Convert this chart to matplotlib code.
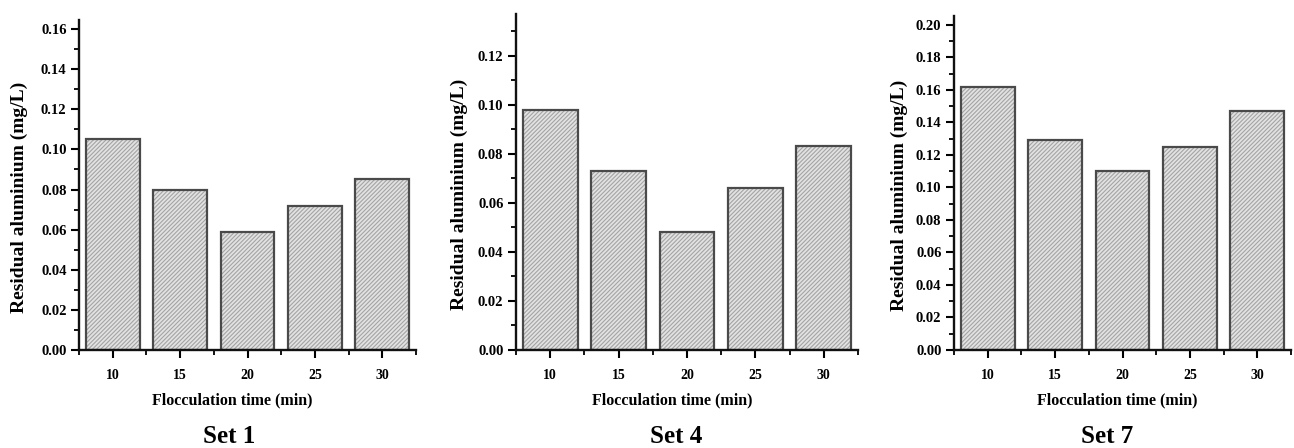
import numpy as np
import matplotlib
matplotlib.use("Agg")
import matplotlib.pyplot as plt
from matplotlib.ticker import MultipleLocator, FormatStrFormatter

# Data
times = [10, 15, 20, 25, 30]
set1 = [0.105, 0.080, 0.059, 0.072, 0.085]
set4 = [0.098, 0.073, 0.048, 0.066, 0.083]
set7 = [0.162, 0.129, 0.110, 0.125, 0.147]
set_names = ["Set 1", "Set 4", "Set 7"]
y_tops = [0.1645, 0.137, 0.2054]

plt.rcParams['font.family'] = ['Liberation Serif', 'DejaVu Serif']
plt.rcParams['font.weight'] = 'bold'
plt.rcParams['hatch.linewidth'] = 0.8

fig = plt.figure(figsize=(12.94, 4.48), dpi=100)

# layout in pixels: axes left, right, top; label positions
W, H = 1294, 448
bottom_px = 350
boxes = [(79, 416, 20), (516, 858, 14), (954, 1291, 16)]
ylab_right = [28, 468, 908]
xlab_cx = [232, 672, 1117]
title_cx = [229, 676, 1107]

for i, (vals, name, ytop) in enumerate(zip([set1, set4, set7], set_names, y_tops)):
    left, right, top = boxes[i]
    ax = fig.add_axes([left / W, 1 - bottom_px / H, (right - left) / W, (bottom_px - top) / H])
    # hatched fill
    ax.bar(times, vals, width=4, color='#e2e2e2', edgecolor='#a4a4a4', hatch='////////', linewidth=0)
    # outline
    ax.bar(times, vals, width=4, fill=False, edgecolor='#4a4a4a', linewidth=1.6)

    ax.set_xlim(7.5, 32.5)
    ax.set_ylim(0, ytop)
    ax.set_xticks(times)
    ax.set_xticks(np.arange(7.5, 33, 5), minor=True)
    ax.yaxis.set_major_locator(MultipleLocator(0.02))
    ax.yaxis.set_minor_locator(MultipleLocator(0.01))
    ax.yaxis.set_major_formatter(FormatStrFormatter('%.2f'))

    for s in ['top', 'right']:
        ax.spines[s].set_visible(False)
    for s in ['left', 'bottom']:
        ax.spines[s].set_linewidth(1.7)
        ax.spines[s].set_color('#111111')

    ax.tick_params(which='major', direction='out', length=6, width=1.5, labelsize=10.5, pad=3)
    ax.tick_params(which='minor', direction='out', length=3.5, width=1.3)
    ax.tick_params(axis='x', pad=8, labelsize=10)

    ax.set_ylabel("Residual aluminium (mg/L)", fontsize=14, fontweight='bold')
    ax.yaxis.set_label_coords((ylab_right[i] - left) / (right - left), 0.464)
    ax.set_xlabel("Flocculation time (min)", fontsize=11.5, fontweight='bold', labelpad=7)
    ax.xaxis.label.set_x((xlab_cx[i] - left) / (right - left))

    fig.text(title_cx[i] / W, 1 - 436 / H, name, ha='center', va='center',
             fontsize=18, fontweight='bold')

fig.savefig("out.png", dpi=100, facecolor='white')
